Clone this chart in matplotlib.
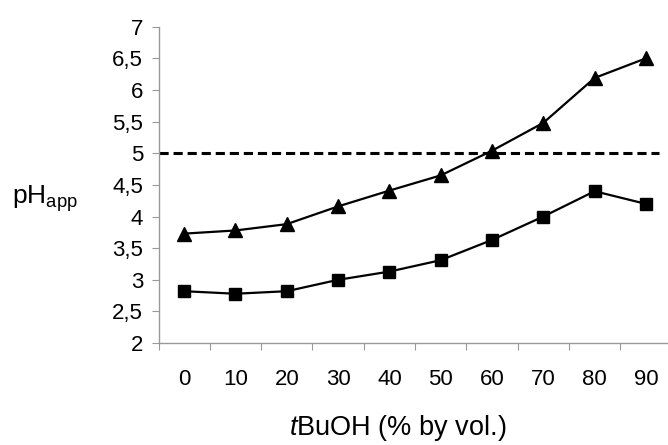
import numpy as np
import matplotlib
matplotlib.use("Agg")
import matplotlib.pyplot as plt

## data
tbuoh = [0, 10, 20, 30, 40, 50, 60, 70, 80, 90]
ph_triangle = [3.73, 3.78, 3.88, 4.16, 4.41, 4.65, 5.04, 5.48, 6.19, 6.50]
ph_square = [2.82, 2.78, 2.82, 3.00, 3.13, 3.31, 3.63, 4.00, 4.40, 4.20]
ph_limit = 5.0
ytick_vals = [2, 2.5, 3, 3.5, 4, 4.5, 5, 5.5, 6, 6.5, 7]
ytick_labels = ["2", "2,5", "3", "3,5", "4", "4,5", "5", "5,5", "6", "6,5", "7"]

plt.rcParams['font.family'] = ['Liberation Sans', 'DejaVu Sans']
plt.rcParams['mathtext.fontset'] = 'custom'
plt.rcParams['mathtext.rm'] = 'Liberation Sans'
plt.rcParams['mathtext.it'] = 'Liberation Sans:italic'

fig = plt.figure(figsize=(6.68, 4.45), dpi=100)
ax = fig.add_axes([0.2373, 0.229, 0.768, 0.711])

pos = np.arange(len(tbuoh))
ax.plot(pos, ph_triangle, color='black', lw=1.6, marker='^', ms=10, zorder=3)
ax.plot(pos, ph_square, color='black', lw=1.6, marker='s', ms=8.5, zorder=3)
ax.hlines(ph_limit, -0.5, 9.25, colors='black', lw=2.2, linestyles=(0, (3, 1.6)))

ax.set_xlim(-0.5, len(tbuoh) - 0.5)
ax.set_ylim(2, 7)

# excel style category axis: ticks between categories, labels at centres
ax.set_xticks(np.arange(len(tbuoh)) - 0.5)
ax.set_xticklabels([])
ax.set_xticks(pos, minor=True)
ax.set_xticklabels([str(v) for v in tbuoh], minor=True, fontsize=16)
ax.tick_params(axis='x', which='minor', length=0, pad=19)
ax.tick_params(axis='x', which='major', length=5, color='#999999', direction='out')

ax.set_yticks(ytick_vals)
ax.set_yticklabels(ytick_labels, fontsize=16)
ax.tick_params(axis='y', length=5, color='#999999', pad=6)

for s in ['top', 'right']:
    ax.spines[s].set_visible(False)
for s in ['left', 'bottom']:
    ax.spines[s].set_color('#999999')
    ax.spines[s].set_linewidth(1.0)

fig.text(0.596, 0.022, r'$\mathit{t}$BuOH (% by vol.)', fontsize=19.5, ha='center', va='baseline')
fig.text(0.018, 0.553, r'pH$_{\mathrm{app}}$', fontsize=19, ha='left', va='center')

fig.savefig("out.png", dpi=100)
